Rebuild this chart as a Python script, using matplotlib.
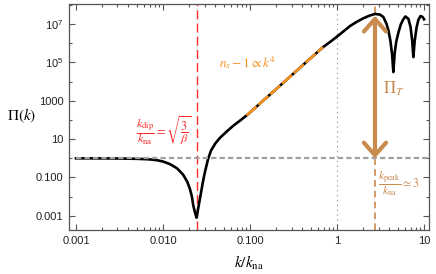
import numpy as np
import matplotlib
matplotlib.use("Agg")
import matplotlib.pyplot as plt
from matplotlib.ticker import FixedLocator, NullFormatter

plt.rcParams['font.family'] = ['Liberation Sans', 'DejaVu Sans']
plt.rcParams['mathtext.fontset'] = 'stix'

# curve
k = [0.001, 0.002, 0.003, 0.004, 0.005, 0.006, 0.007, 0.0085, 0.010, 0.012,
     0.0145, 0.017, 0.019, 0.0204, 0.0215, 0.0223, 0.0233, 0.0243, 0.0252, 0.0266,
     0.0288, 0.0304, 0.0329, 0.0356, 0.040, 0.0452, 0.055, 0.0643, 0.078, 0.0916,
     0.109, 0.15, 0.2, 0.3, 0.4, 0.5, 0.69, 0.85, 1.0, 1.2,
     1.41, 1.7, 2.0, 2.35, 2.73, 3.1, 3.4, 3.7, 3.89, 4.1,
     4.3, 4.44, 4.6, 4.8, 5.07, 5.4, 5.78, 6.1, 6.6, 7.0,
     7.3, 7.54, 7.8, 8.2, 8.6, 9.1, 9.6, 10.0]
log_pi = [0.0, -0.004, -0.009, -0.018, -0.027, -0.041, -0.056, -0.097, -0.167, -0.30,
          -0.52, -0.85, -1.22, -1.60, -2.0, -2.46, -2.82, -3.10, -2.70, -2.10,
          -1.22, -0.70, -0.05, 0.40, 0.78, 1.07, 1.43, 1.70, 1.99, 2.24,
          2.54, 3.11, 3.61, 4.33, 4.84, 5.23, 5.80, 6.10, 6.35, 6.64,
          6.90, 7.13, 7.30, 7.44, 7.53, 7.50, 7.38, 7.02, 6.68, 6.15,
          5.40, 4.50, 5.50, 6.10, 6.55, 6.98, 7.25, 7.40, 7.28, 6.85,
          6.15, 5.28, 6.10, 6.82, 7.22, 7.42, 7.38, 7.25]
pi_vals = 10.0 ** np.array(log_pi)
k = np.array(k)

k_dip = 0.0243
k_peak = 2.73
k_fit = (0.09, 0.7)   # range of the n_s - 1 ~ k^4 segment

x_major = [0.001, 0.01, 0.1, 1, 10]
x_labels = ['0.001', '0.010', '0.100', '1', '10']
y_major = [1e-3, 1e-1, 1e1, 1e3, 1e5, 1e7]
y_labels = ['0.001', '0.100', '10', '1000',
            r'$\mathregular{10^5}$', r'$\mathregular{10^7}$']
y_minor = [1e-2, 1e0, 1e2, 1e4, 1e6, 1e8]

red = '#ff2a2a'
orange = '#f7921e'
tan = '#c98a4e'
grey = '#a0a0a0'

fig = plt.figure(figsize=(4.36, 2.74), dpi=100)
ax = fig.add_axes([69 / 436, 44 / 274, 360 / 436, 226 / 274])
ax.set_xscale('log')
ax.set_yscale('log')
ax.set_xlim(10 ** -3.08, 10 ** 1.057)
ax.set_ylim(10 ** -3.74, 10 ** 8.05)

ax.plot(k, pi_vals, color='black', lw=1.9, zorder=3)
m = (k >= k_fit[0]) & (k <= k_fit[1])
ax.plot(k[m], pi_vals[m], color=orange, lw=1.9, dashes=(5, 1), zorder=4)

ax.plot([k[0], ax.get_xlim()[1]], [1, 1], color=grey, lw=1.6, dashes=(2.4, 1.4), zorder=5)
ax.axvline(1.0, color='#999999', lw=0.8, linestyle=(0, (1.2, 3.2)), zorder=1)
ax.axvline(k_dip, color=red, lw=1.0, dashes=(6.5, 3), zorder=2)
ax.axvline(k_peak, color=tan, lw=1.2, dashes=(4, 2.5), zorder=2)

ax.annotate('', xy=(k_peak, pi_vals.max() * 0.8), xytext=(k_peak, 1.0),
            arrowprops=dict(arrowstyle='<->,head_length=0.9,head_width=0.8',
                            lw=3, color=tan, shrinkA=0, shrinkB=0),
            zorder=6)

ax.text(0.0102, 26, r'$\dfrac{k_{\rm dip}}{k_{\rm na}}=\sqrt{\dfrac{3}{\beta}}$',
        color=red, fontsize=8.8, ha='center', va='center')
ax.text(0.044, 1e5, r'$n_s-1\propto k^4$', color=orange, fontsize=9.5,
        ha='left', va='center')
ax.text(4.5, 4300, r'$\Pi_T$', color=tan, fontsize=12, ha='center', va='center')
ax.text(2.96, 0.05, r'$\dfrac{k_{\rm peak}}{k_{\rm na}}\simeq 3$', color=tan,
        fontsize=8.5, ha='left', va='center')

ax.set_xlabel(r'$k/k_{\rm na}$', fontsize=11, labelpad=6)
ax.set_ylabel(r'$\Pi(k)$', fontsize=11, rotation=0, va='center', ha='center')
ax.yaxis.set_label_coords(-0.133, 0.504)

ax.xaxis.set_major_locator(FixedLocator(x_major))
ax.set_xticklabels(x_labels)
ax.xaxis.set_minor_locator(FixedLocator(
    [d * s for d in [0.001, 0.01, 0.1, 1] for s in range(2, 10)]))
ax.xaxis.set_minor_formatter(NullFormatter())
ax.yaxis.set_major_locator(FixedLocator(y_major))
ax.set_yticklabels(y_labels)
ax.yaxis.set_minor_locator(FixedLocator(y_minor))
ax.yaxis.set_minor_formatter(NullFormatter())

ax.tick_params(which='both', direction='in', top=True, right=True,
               color='#555555', labelsize=8, labelcolor='#222222', width=0.8)
ax.tick_params(which='major', length=4.5, pad=4)
ax.tick_params(which='minor', length=2.5)
for s in ax.spines.values():
    s.set_color('#555555')
    s.set_linewidth(0.9)

fig.savefig('out.png', dpi=100)
